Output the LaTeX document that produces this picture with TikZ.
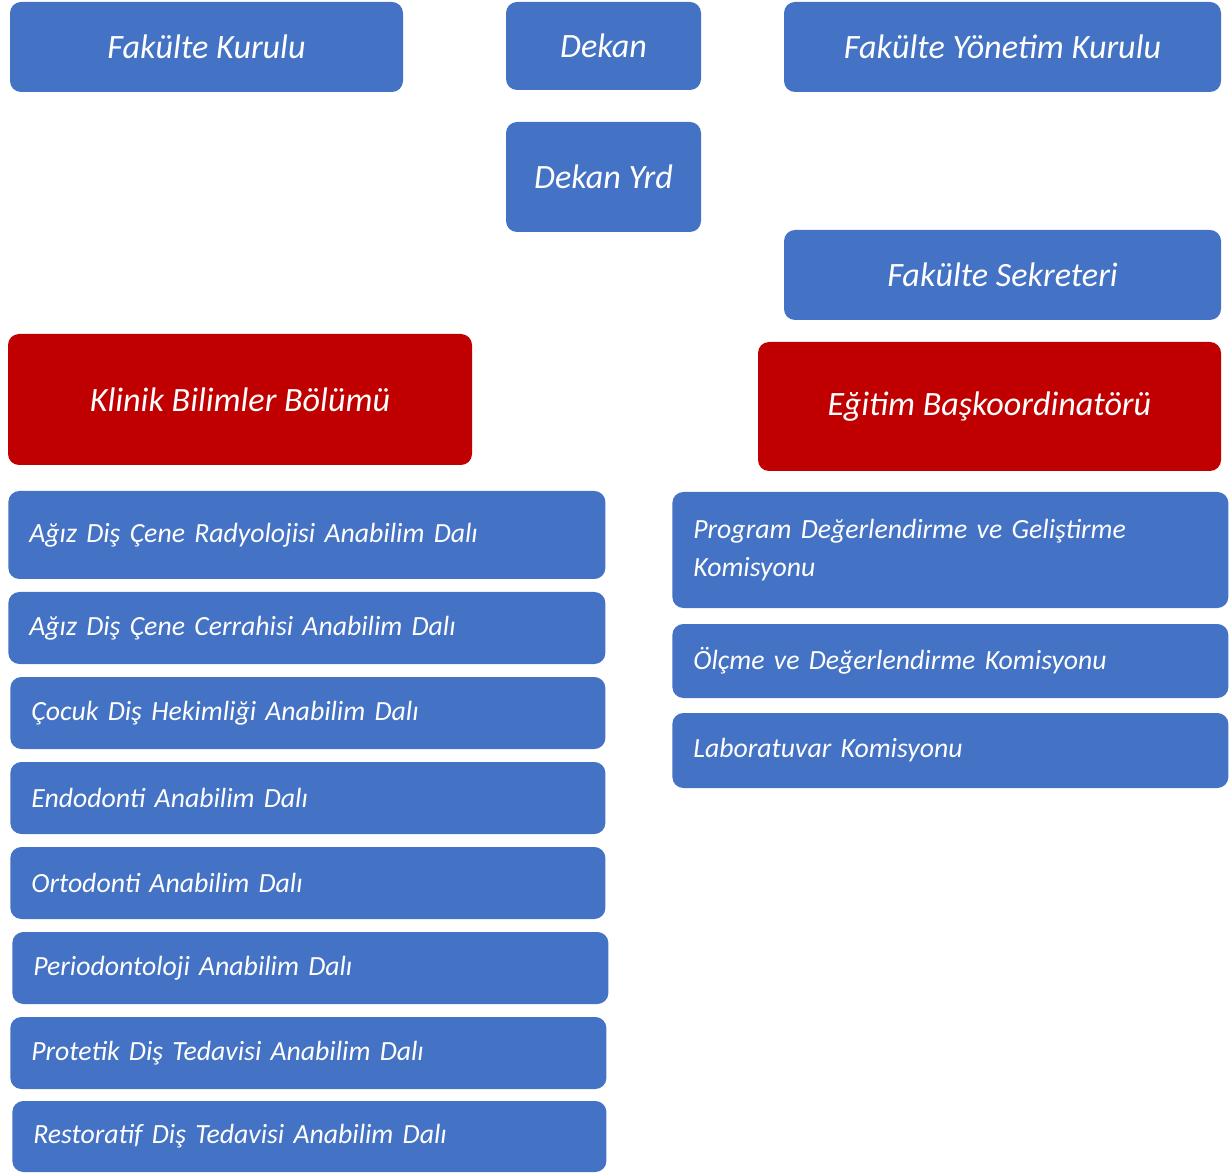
\documentclass[tikz,border=0pt]{standalone}
\usepackage{fontspec}
\setmainfont{Carlito}
\definecolor{unitblue}{RGB}{68,114,196}
\definecolor{unitred}{RGB}{192,0,0}
\tikzset{
  headbox/.style={rectangle,rounded corners=0.22cm,fill=unitblue,text=white,
    font=\itshape\fontsize{19.4}{23}\selectfont,align=center,inner sep=0pt},
  redbox/.style={headbox,fill=unitred},
  listbox/.style={rectangle,rounded corners=0.22cm,fill=unitblue,text=white,anchor=west,
    font=\itshape\fontsize{15.8}{22}\selectfont,align=left,inner xsep=0.42cm,inner ysep=0pt}
}
\begin{document}
\begin{tikzpicture}
\useasboundingbox (0,0) rectangle (24.62,-23.48);

    \node[headbox,minimum width=7.86cm,minimum height=1.8cm] (kurul) at (4.13,-0.94) {Fakülte Kurulu};
    \node[headbox,minimum width=3.9cm,minimum height=1.76cm] (dekan) at (12.07,-0.92) {Dekan};
    \node[headbox,minimum width=8.74cm,minimum height=1.8cm] (yonetim) at (20.05,-0.94) {Fakülte Yönetim Kurulu};

    \node[headbox,minimum width=3.9cm,minimum height=2.2cm] (yrd) at (12.07,-3.54) {Dekan Yrd};
    \node[headbox,minimum width=8.74cm,minimum height=1.8cm] (sekreter) at (20.05,-5.5) {Fakülte Sekreteri};

    \node[redbox,minimum width=9.28cm,minimum height=2.62cm] (klinik) at (4.8,-7.99) {Klinik Bilimler Bölümü};
    \node[redbox,minimum width=9.26cm,minimum height=2.58cm] (egitim) at (19.79,-8.13) {Eğitim Başkoordinatörü};

% left column: the departments
    \node[listbox,text width=11.1cm,minimum height=1.76cm] (ad1) at (0.16,-10.7) {Ağız Diş Çene Radyolojisi Anabilim Dalı};
    \node[listbox,text width=11.1cm,minimum height=1.44cm] (ad2) at (0.16,-12.56) {Ağız Diş Çene Cerrahisi Anabilim Dalı};
    \node[listbox,text width=11.06cm,minimum height=1.44cm] (ad3) at (0.2,-14.26) {Çocuk Diş Hekimliği Anabilim Dalı};
    \node[listbox,text width=11.06cm,minimum height=1.44cm] (ad4) at (0.2,-15.96) {Endodonti Anabilim Dalı};
    \node[listbox,text width=11.06cm,minimum height=1.44cm] (ad5) at (0.2,-17.66) {Ortodonti Anabilim Dalı};
    \node[listbox,text width=11.08cm,minimum height=1.44cm] (ad6) at (0.24,-19.36) {Periodontoloji Anabilim Dalı};
    \node[listbox,text width=11.08cm,minimum height=1.44cm] (ad7) at (0.2,-21.06) {Protetik Diş Tedavisi Anabilim Dalı};
    \node[listbox,text width=11.04cm,minimum height=1.42cm] (ad8) at (0.24,-22.73) {Restoratif Diş Tedavisi Anabilim Dalı};

% right column: the commissions
    \node[listbox,text width=10.28cm,minimum height=2.32cm] (kom1) at (13.44,-11.0) {Program Değerlendirme ve Geliştirme\\Komisyonu};
    \node[listbox,text width=10.28cm,minimum height=1.48cm] (kom2) at (13.44,-13.22) {Ölçme ve Değerlendirme Komisyonu};
    \node[listbox,text width=10.28cm,minimum height=1.5cm] (kom3) at (13.44,-15.01) {Laboratuvar Komisyonu};

\end{tikzpicture}
\end{document}
